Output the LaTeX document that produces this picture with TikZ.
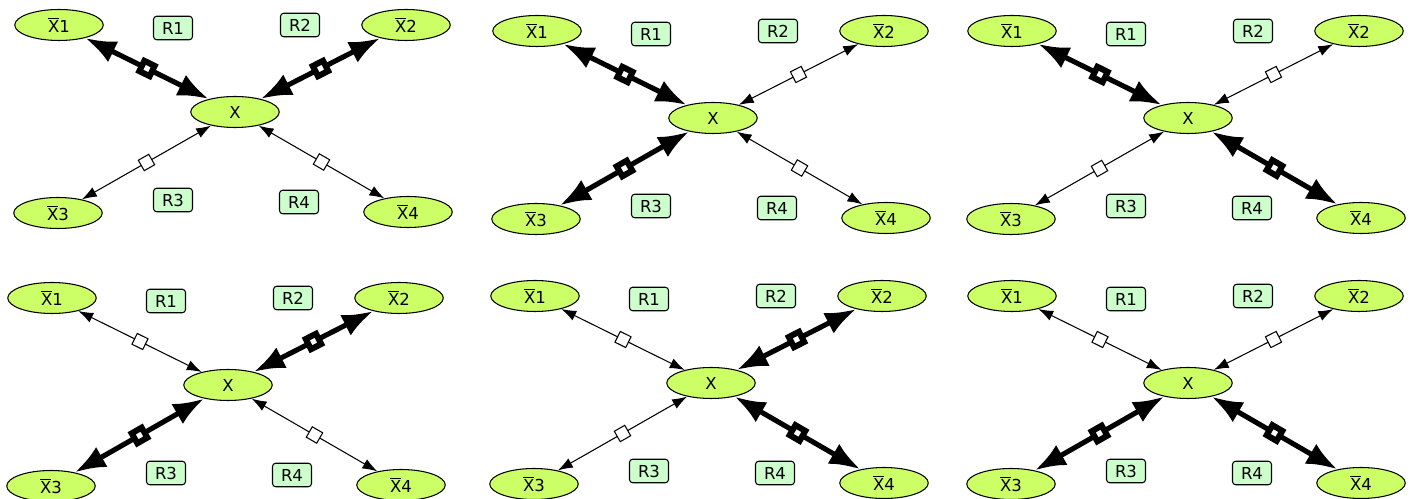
\documentclass[tikz,border=0pt]{standalone}
\usepackage{fontspec}
\setmainfont{DejaVu Sans}
\usetikzlibrary{arrows.meta,shapes}
\definecolor{varfill}{HTML}{CCFF66}
\definecolor{relfill}{HTML}{CCFFCC}
\tikzset{>=Latex}
\tikzstyle{var}=[ellipse,draw,fill=varfill,line width=0.6pt,minimum width=1.77cm,minimum height=0.62cm,inner sep=0pt]
\tikzstyle{rel}=[rectangle,rounded corners=1.8pt,draw,fill=relfill,line width=0.6pt,minimum width=0.78cm,minimum height=0.47cm,inner sep=0pt]
\tikzstyle{slim link}=[line width=0.6pt,{Latex[length=0.3cm,width=0.21cm]}-{Latex[length=0.3cm,width=0.21cm]}]
\tikzstyle{fat link}=[line width=2.9pt,{Latex[length=0.62cm,width=0.46cm]}-{Latex[length=0.62cm,width=0.46cm]}]
\tikzstyle{slim mark}=[rectangle,draw,fill=white,line width=0.6pt,minimum size=0.24cm,inner sep=0pt,sloped,midway]
\tikzstyle{fat mark}=[rectangle,draw,fill=white,line width=3.4pt,minimum size=0.23cm,inner sep=0pt,sloped,midway]
\newcommand{\xbar}[1]{$\overline{\mbox{X}}$#1}

\begin{document}
\begin{tikzpicture}[x=0.02cm,y=-0.02cm,font=\fontsize{9.4pt}{11pt}\selectfont]
    \useasboundingbox (0,0) rectangle (1414,499);
    % one panel per centre, with the weight of each of the four links
    \foreach \cx/\cy/\ea/\eb/\ec/\ed in {235/112/fat/fat/slim/slim,
        713/118/fat/slim/fat/slim, 1188/118/fat/slim/slim/fat,
        228/385/slim/fat/fat/slim, 711/383/slim/fat/slim/fat,
        1188/383/slim/slim/fat/fat} {
        \begin{scope}[shift={(\cx,\cy)}]
            \node[var] (x) at (0,0) {X};
            \node[var] (xb1) at (-176,-87) {\xbar{1}};
            \node[var] (xb2) at (171,-87) {\xbar{2}};
            \node[var] (xb3) at (-177,101) {\xbar{3}};
            \node[var] (xb4) at (173,100) {\xbar{4}};

            \node[rel] (r1) at (-62,-84) {R1};
            \node[rel] (r2) at (65,-87) {R2};
            \node[rel] (r3) at (-62,88) {R3};
            \node[rel] (r4) at (64,90) {R4};

            \draw[\ea\space link] (xb1) -- node[\ea\space mark] {} (x);
            \draw[\eb\space link] (xb2) -- node[\eb\space mark] {} (x);
            \draw[\ec\space link] (xb3) -- node[\ec\space mark] {} (x);
            \draw[\ed\space link] (xb4) -- node[\ed\space mark] {} (x);
        \end{scope}
    };
\end{tikzpicture}
\end{document}
